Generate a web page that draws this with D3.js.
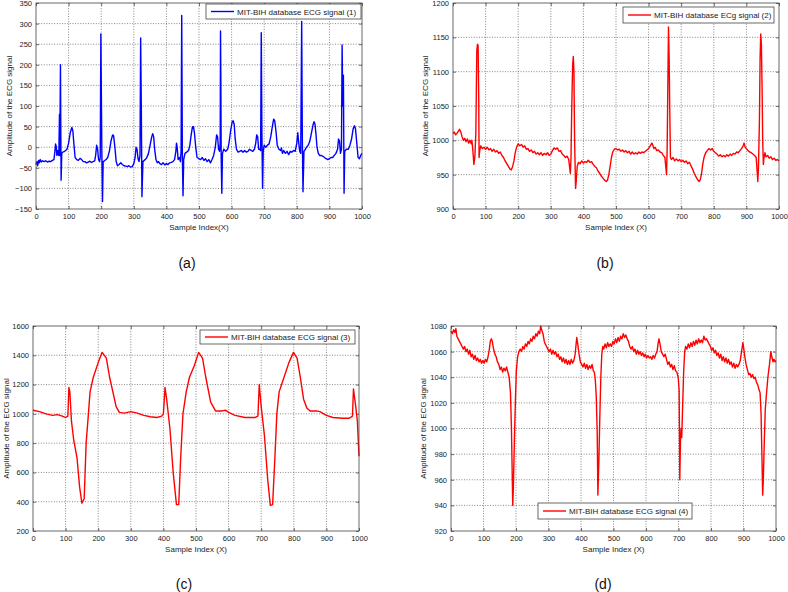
<!DOCTYPE html>
<html><head><meta charset="utf-8">
<script src="https://cdn.jsdelivr.net/npm/d3@7/dist/d3.min.js"></script>
<style>
body{margin:0;background:#fff;}
svg{display:block;}
text{font-family:Arial,"Liberation Sans",sans-serif;}
</style></head>
<body>
<svg id="chart" width="788" height="592"></svg>
<script>
// ---------- DATA ----------
const xTicks = [0,100,200,300,400,500,600,700,800,900,1000];
const yTicksA = [-150,-100,-50,0,50,100,150,200,250,300,350];
const yTicksB = [900,950,1000,1050,1100,1150,1200];
const yTicksC = [200,400,600,800,1000,1200,1400,1600];
const yTicksD = [920,940,960,980,1000,1020,1040,1060,1080];

const legendA = "MIT-BIH database ECG signal (1)";
const legendB = "MIT-BIH database ECg signal (2)";
const legendC = "MIT-BIH database ECG signal (3)";
const legendD = "MIT-BIH database ECG signal (4)";
const captions = ["(a)","(b)","(c)","(d)"];
const xLabelA = "Sample Index(X)";
const xLabelOther = "Sample Index (X)";
const yLabel = "Amplitude of the ECG signal";

// signal (1): [sample index, amplitude]
const signalA = [[0,-42],[3,-35],[5,-45],[8,-32],[10,-38],[13,-30],[16,-36],[20,-33],[25,-35],[30,-33],[35,-36],[40,-34],[45,-35],[50,-32],[55,-30],[58,-10],[60,8],[62,2],[64,-20],[66,-8],[68,-15],[70,-20],[72,80],[73,-20],[75,200],[77,-80],[79,-15],[82,-12],[88,-10],[95,-5],[100,10],[105,35],[110,48],[113,40],[116,10],[120,-25],[125,-30],[130,-32],[135,-27],[140,-30],[145,-35],[150,-35],[155,-38],[160,-36],[165,-34],[170,-37],[175,-35],[180,-33],[183,-20],[186,5],[189,-5],[192,-30],[195,-35],[197,-25],[199,275],[202,-10],[204,-132],[206,-35],[210,-33],[215,-30],[220,-25],[225,-10],[230,15],[235,30],[238,28],[242,0],[246,-35],[250,-45],[255,-42],[260,-38],[265,-42],[270,-45],[275,-46],[280,-47],[285,-45],[290,-48],[295,-47],[300,-40],[304,-25],[307,0],[310,-5],[313,-28],[316,-35],[319,-20],[321,265],[323,100],[325,-120],[328,-35],[335,-30],[340,-25],[345,-15],[350,5],[355,25],[358,33],[361,25],[364,-5],[368,-30],[372,-38],[376,-35],[380,-40],[385,-42],[390,-38],[395,-43],[400,-40],[405,-42],[410,-38],[415,-37],[420,-35],[425,-30],[429,-10],[431,10],[433,0],[436,-30],[440,-25],[443,-35],[445,-10],[447,320],[449,-20],[451,-118],[453,-30],[457,-15],[462,-12],[468,-8],[472,5],[476,30],[480,50],[483,50],[486,35],[490,0],[494,-25],[500,-28],[505,-30],[510,-25],[515,-32],[520,-28],[525,-35],[530,-30],[535,-38],[540,-30],[545,-20],[550,0],[554,30],[557,25],[560,-5],[563,-10],[565,10],[566,282],[567,165],[568,-20],[570,-112],[572,-15],[576,-5],[582,-10],[588,-5],[592,10],[597,40],[602,62],[605,64],[608,55],[611,20],[615,-5],[620,-12],[625,-10],[630,-8],[635,-12],[640,-8],[645,-12],[650,-10],[655,-5],[660,-8],[665,-10],[670,-5],[674,10],[677,30],[680,25],[683,-5],[686,-5],[689,-8],[691,278],[693,30],[695,-100],[697,-10],[700,5],[705,0],[710,5],[715,8],[720,25],[725,50],[729,68],[732,65],[736,40],[740,5],[745,-5],[750,-8],[753,-2],[756,-15],[760,-8],[765,-15],[770,-10],[775,-18],[780,-10],[785,-12],[790,-8],[795,-10],[800,10],[803,35],[806,10],[809,-10],[812,-15],[815,305],[817,20],[819,-108],[822,-10],[826,-5],[830,0],[835,5],[840,15],[845,35],[850,55],[853,62],[856,55],[859,30],[862,0],[866,-15],[870,-20],[875,-20],[880,-22],[885,-25],[890,-28],[895,-30],[900,-28],[905,-25],[910,-25],[915,-20],[920,-15],[925,-5],[928,20],[931,15],[934,-15],[937,-5],[939,248],[941,100],[943,175],[945,-112],[947,-10],[952,-5],[958,-5],[963,5],[968,20],[973,45],[977,52],[980,45],[984,10],[988,-25],[992,-28],[996,-20],[1000,-15]];

// signal (2)
const signalB = [[0,1010],[4,1012],[8,1008],[12,1010],[16,1013],[20,1016],[24,1012],[28,1005],[32,1000],[36,1003],[40,998],[44,1002],[48,996],[52,1000],[56,995],[58,1000],[61,985],[64,965],[67,975],[70,1010],[73,1130],[75,1140],[77,1138],[79,1060],[80,975],[82,985],[85,992],[90,988],[95,990],[100,987],[105,990],[110,986],[115,988],[120,984],[125,987],[130,983],[135,985],[140,981],[145,983],[150,978],[155,975],[160,970],[165,966],[170,962],[175,958],[179,957],[183,962],[187,970],[191,982],[195,990],[200,995],[205,992],[210,994],[215,990],[220,992],[225,987],[230,988],[235,984],[240,986],[245,982],[250,984],[255,980],[260,982],[265,979],[270,982],[275,978],[280,981],[285,979],[290,982],[295,978],[300,980],[305,985],[310,989],[315,987],[320,989],[325,984],[330,985],[335,980],[340,978],[345,975],[350,977],[355,972],[358,960],[360,952],[362,975],[364,1040],[367,1110],[369,1122],[371,1100],[373,1000],[376,930],[378,940],[381,962],[385,968],[390,966],[395,970],[400,967],[405,969],[410,968],[415,971],[420,968],[425,969],[430,965],[435,962],[440,960],[445,955],[450,952],[455,948],[460,945],[465,942],[470,940],[474,942],[478,950],[482,962],[486,975],[490,983],[495,987],[500,988],[505,986],[510,987],[515,984],[520,986],[525,983],[530,985],[535,982],[540,984],[545,980],[550,983],[555,980],[560,982],[565,980],[570,983],[575,981],[580,983],[585,982],[590,984],[595,986],[600,988],[605,992],[610,996],[613,993],[616,988],[620,990],[625,985],[630,986],[635,983],[640,982],[645,978],[650,975],[653,960],[655,950],[657,990],[659,1080],[661,1165],[663,1120],[665,1040],[667,975],[670,972],[675,975],[680,970],[685,973],[690,970],[695,972],[700,969],[705,971],[710,968],[715,970],[720,966],[725,968],[730,963],[735,958],[740,952],[745,947],[750,943],[755,940],[758,942],[762,950],[766,965],[770,975],[775,982],[780,985],[785,988],[790,986],[795,988],[800,984],[805,982],[810,980],[815,977],[820,979],[825,976],[830,978],[835,976],[840,979],[845,977],[850,980],[855,978],[860,981],[865,980],[870,983],[875,982],[880,985],[885,988],[890,992],[893,996],[896,990],[900,988],[905,985],[910,983],[915,982],[920,980],[925,978],[930,975],[933,955],[935,940],[937,960],[940,1030],[942,1120],[944,1155],[946,1140],[948,1080],[950,1000],[952,965],[954,975],[957,982],[960,976],[965,978],[970,974],[975,976],[980,972],[985,974],[990,971],[995,972],[1000,970]];

// signal (3)
const signalC = [[0,1025],[20,1015],[40,1000],[60,990],[75,995],[90,985],[100,975],[107,985],[110,1180],[113,1150],[118,950],[125,820],[135,700],[143,500],[150,390],[157,420],[163,800],[170,1000],[175,1150],[185,1250],[200,1350],[212,1420],[225,1380],[235,1250],[245,1150],[255,1050],[265,1010],[280,1005],[300,1015],[320,1005],[340,990],[360,980],[380,975],[395,985],[400,1000],[405,1180],[410,1100],[420,900],[430,600],[440,380],[447,380],[453,700],[460,1000],[470,1150],[480,1250],[495,1330],[508,1420],[520,1380],[530,1250],[545,1080],[560,1020],[580,1020],[590,1025],[600,1010],[620,990],[650,975],[680,975],[690,985],[694,1200],[700,1050],[710,850],[720,550],[728,375],[735,380],[742,700],[748,1000],[755,1150],[770,1250],[785,1350],[799,1420],[810,1380],[820,1250],[830,1100],[840,1040],[850,1020],[870,1020],[880,1015],[900,990],[920,975],[950,970],[970,970],[980,985],[983,1170],[990,1050],[995,950],[1000,710]];

// signal (4)
const signalD = [[0,1076],[4,1074],[8,1077],[12,1075],[15,1078],[18,1072],[22,1070],[26,1068],[30,1066],[34,1064],[38,1062],[42,1064],[46,1060],[50,1062],[54,1058],[58,1061],[62,1056],[66,1058],[70,1054],[74,1057],[78,1053],[82,1055],[86,1052],[90,1054],[94,1051],[98,1053],[102,1051],[106,1054],[110,1052],[114,1056],[118,1062],[121,1068],[124,1070],[127,1068],[131,1062],[135,1058],[139,1056],[143,1052],[147,1050],[151,1046],[155,1048],[159,1044],[163,1047],[167,1045],[171,1048],[175,1044],[179,1040],[183,1028],[186,1000],[188,970],[190,940],[192,955],[195,990],[198,1020],[201,1045],[205,1056],[209,1060],[213,1062],[217,1060],[221,1064],[225,1062],[229,1066],[233,1064],[237,1068],[241,1066],[245,1070],[249,1068],[253,1072],[257,1070],[261,1074],[265,1072],[269,1076],[273,1074],[276,1080],[279,1077],[283,1074],[287,1068],[290,1066],[294,1064],[298,1062],[302,1060],[306,1062],[310,1058],[314,1061],[318,1058],[322,1060],[326,1056],[330,1058],[334,1054],[338,1056],[342,1052],[346,1055],[350,1051],[354,1054],[358,1050],[362,1053],[366,1050],[370,1054],[374,1051],[378,1053],[382,1058],[385,1066],[387,1071],[390,1066],[394,1058],[398,1052],[402,1050],[406,1048],[410,1051],[414,1047],[418,1050],[422,1046],[426,1049],[430,1047],[434,1050],[438,1045],[441,1044],[444,1038],[447,1025],[450,995],[452,948],[455,975],[458,1010],[461,1040],[464,1058],[467,1064],[470,1062],[474,1066],[478,1063],[482,1067],[486,1064],[490,1066],[494,1064],[498,1068],[502,1066],[506,1070],[510,1067],[514,1071],[518,1068],[522,1072],[526,1070],[530,1074],[534,1071],[538,1073],[542,1070],[546,1068],[550,1064],[554,1062],[558,1064],[562,1060],[566,1062],[570,1058],[574,1061],[578,1058],[582,1060],[586,1057],[590,1059],[594,1056],[598,1058],[602,1055],[606,1057],[610,1055],[614,1056],[618,1054],[622,1057],[626,1055],[630,1058],[634,1060],[637,1066],[640,1070],[643,1066],[647,1060],[651,1058],[655,1056],[659,1058],[663,1054],[667,1050],[671,1052],[675,1048],[679,1050],[683,1046],[687,1049],[691,1045],[695,1044],[699,1040],[702,1030],[704,960],[706,990],[708,1000],[710,993],[713,1020],[716,1045],[719,1060],[722,1064],[726,1062],[730,1066],[734,1063],[738,1067],[742,1064],[746,1068],[750,1065],[754,1069],[758,1066],[762,1070],[766,1067],[770,1069],[774,1067],[778,1072],[782,1069],[786,1070],[790,1068],[794,1066],[798,1064],[802,1061],[806,1063],[810,1059],[814,1061],[818,1057],[822,1059],[826,1055],[830,1058],[834,1053],[838,1056],[842,1052],[846,1055],[850,1051],[854,1054],[858,1050],[862,1052],[866,1048],[870,1051],[874,1047],[878,1050],[882,1048],[886,1050],[890,1053],[894,1060],[898,1067],[901,1062],[904,1056],[908,1050],[912,1046],[916,1042],[920,1043],[924,1040],[928,1042],[932,1039],[936,1040],[940,1036],[944,1034],[948,1030],[951,1028],[954,1012],[957,975],[959,948],[961,960],[964,990],[967,1015],[970,1025],[975,1040],[980,1050],[984,1060],[988,1055],[991,1052],[994,1054],[997,1052],[1000,1053]];

// ---------- DRAW ----------
const svg = d3.select("#chart");

const panels = [
  {data:signalA, color:"#0000ff", yDomain:[-150,350], yTicks:yTicksA,
   box:{l:36,t:3,w:326,h:206}, legend:legendA, leg:{x:206,y:4,w:155,h:15},
   xLabel:xLabelA, yLabX:9, caption:{x:187,y:268}},
  {data:signalB, color:"#ff0000", yDomain:[900,1200], yTicks:yTicksB,
   box:{l:453,t:3,w:326,h:206}, legend:legendB, leg:{x:623,y:7,w:151,h:16},
   xLabel:xLabelOther, yLabX:425, caption:{x:605,y:268}},
  {data:signalC, color:"#ff0000", yDomain:[200,1600], yTicks:yTicksC,
   box:{l:33,t:326,w:326,h:205}, legend:legendC, leg:{x:200,y:330,w:155,h:14},
   xLabel:xLabelOther, yLabX:6, caption:{x:184,y:589}},
  {data:signalD, color:"#ff0000", yDomain:[920,1080], yTicks:yTicksD,
   box:{l:451,t:326,w:325,h:205}, legend:legendD, leg:{x:538,y:503,w:154,h:16},
   xLabel:xLabelOther, yLabX:423, caption:{x:603,y:589}}
];

panels.forEach(p => {
  const b = p.box;
  const x = d3.scaleLinear().domain([0,1000]).range([b.l, b.l+b.w]);
  const y = d3.scaleLinear().domain(p.yDomain).range([b.t+b.h, b.t]);
  const g = svg.append("g");

  g.append("rect").attr("x",b.l).attr("y",b.t).attr("width",b.w).attr("height",b.h)
    .attr("fill","#fff");

  // grid
  g.append("g").selectAll("line").data(xTicks.slice(1,-1)).join("line")
    .attr("x1",d=>x(d)).attr("x2",d=>x(d)).attr("y1",b.t).attr("y2",b.t+b.h)
    .attr("stroke","#555").attr("stroke-width",0.7).attr("stroke-dasharray","1,1.6");
  g.append("g").selectAll("line").data(p.yTicks.slice(1,-1)).join("line")
    .attr("y1",d=>y(d)).attr("y2",d=>y(d)).attr("x1",b.l).attr("x2",b.l+b.w)
    .attr("stroke","#555").attr("stroke-width",0.7).attr("stroke-dasharray","1,1.6");

  // axes
  g.append("g").attr("transform",`translate(0,${b.t+b.h})`)
    .call(d3.axisBottom(x).tickValues(xTicks).tickSize(-3).tickPadding(5).tickFormat(d3.format("d")));
  g.append("g").attr("transform",`translate(${b.l},0)`)
    .call(d3.axisLeft(y).tickValues(p.yTicks).tickSize(-3).tickPadding(4).tickFormat(d3.format("d")));
  g.append("g").attr("transform",`translate(0,${b.t})`)
    .call(d3.axisTop(x).tickValues(xTicks).tickSize(-3).tickFormat(""));
  g.append("g").attr("transform",`translate(${b.l+b.w},0)`)
    .call(d3.axisRight(y).tickValues(p.yTicks).tickSize(-3).tickFormat(""));
  g.selectAll(".domain").attr("stroke","none");
  g.selectAll(".tick line").attr("stroke","#333").attr("stroke-width",0.7);
  g.selectAll(".tick text").attr("font-size","7.5px").attr("fill","#222")
    .attr("font-family","Arial, 'Liberation Sans', sans-serif");

  // signal line
  const line = d3.line().x(d=>x(d[0])).y(d=>y(d[1]));
  g.append("path").datum(p.data).attr("d",line).attr("fill","none")
    .attr("stroke",p.color).attr("stroke-width",1.4).attr("stroke-linejoin","round");

  // frame
  g.append("rect").attr("x",b.l).attr("y",b.t).attr("width",b.w).attr("height",b.h)
    .attr("fill","none").attr("stroke","#444").attr("stroke-width",0.8);

  // legend
  const L = p.leg;
  g.append("rect").attr("x",L.x).attr("y",L.y).attr("width",L.w).attr("height",L.h)
    .attr("fill","#fff").attr("stroke","#444").attr("stroke-width",0.8);
  g.append("line").attr("x1",L.x+5).attr("x2",L.x+28).attr("y1",L.y+L.h/2).attr("y2",L.y+L.h/2)
    .attr("stroke",p.color).attr("stroke-width",1.4);
  g.append("text").attr("x",L.x+31).attr("y",L.y+L.h/2+3).attr("font-size","8px")
    .attr("fill","#222").text(p.legend);

  // axis labels
  g.append("text").attr("x",b.l+b.w/2).attr("y",b.t+b.h+21).attr("text-anchor","middle")
    .attr("font-size","8px").attr("fill","#222").text(p.xLabel);
  g.append("text").attr("transform",`translate(${p.yLabX},${b.t+b.h/2}) rotate(-90)`)
    .attr("text-anchor","middle").attr("dy","0.35em").attr("font-size","8px").attr("fill","#222").text(yLabel);
});

// captions
svg.append("g").selectAll("text").data(panels).join("text")
  .attr("x",p=>p.caption.x).attr("y",p=>p.caption.y).attr("text-anchor","middle")
  .attr("font-family","'Liberation Serif','DejaVu Serif',serif").attr("font-size","14px")
  .attr("fill","#111").text((p,i)=>captions[i]);
</script>
</body></html>
